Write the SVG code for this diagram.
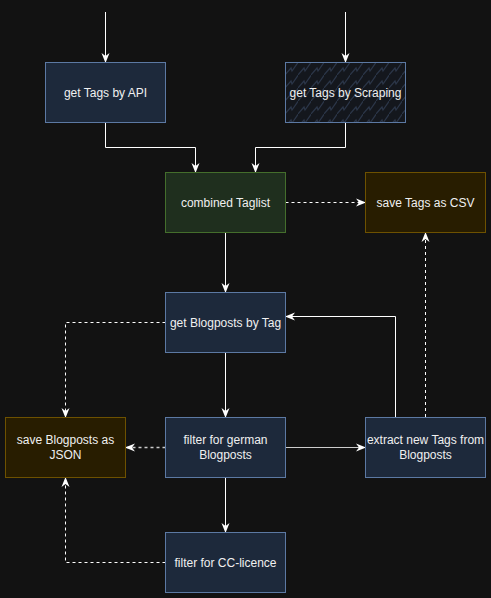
<svg xmlns="http://www.w3.org/2000/svg" width="491" height="598" viewBox="0 0 491 598">
<defs>
<marker id="arr" viewBox="0 0 10 10" refX="9" refY="5" markerWidth="10" markerHeight="10" markerUnits="userSpaceOnUse" orient="auto">
<path d="M0,1 L10,5 L0,9 L3,5 z" fill="#ffffff"/>
</marker>
<pattern id="zig" width="13" height="13" patternUnits="userSpaceOnUse" x="285" y="62">
<rect width="13" height="13" fill="#14171d"/>
<path d="M-1,14 L6,6 L7,9 L14,-1" fill="none" stroke="#2b3649" stroke-width="1.2"/>
</pattern>
<style>
.blue{fill:#1d293b;stroke:#5c79a3;stroke-width:1}
.green{fill:#1f2f1e;stroke:#446e2c;stroke-width:1}
.brown{fill:#281d00;stroke:#6d5100;stroke-width:1}
.zig{fill:url(#zig);stroke:#5c79a3;stroke-width:1}
text{font-family:"Liberation Sans",Arial,sans-serif;font-size:12px;fill:#f0f0f0;text-anchor:middle}
.e{fill:none;stroke:#ffffff;stroke-width:1;marker-end:url(#arr)}
.d{stroke-dasharray:3 3}
</style>
</defs>
<rect width="491" height="598" fill="#121212"/>
<g id="connectors">
<path class="e" d="M105.5,12 V62"/>
<path class="e" d="M345.5,12 V62" stroke="#bbbbbb"/>
<path class="e" d="M105.5,122.5 V147.5 H195.5 V172"/>
<path class="e" d="M345.5,122.5 V147.5 H255.5 V172"/>
<path class="e d" d="M285.5,202.5 H365"/>
<path class="e" d="M225.5,232.5 V292"/>
<path class="e d" d="M165.5,322.5 H65.5 V417"/>
<path class="e" d="M225.5,352.5 V417"/>
<path class="e d" d="M165.5,447.5 H126" style="stroke:#cccccc;stroke-width:1.5"/>
<path class="e" d="M285.5,447.5 H365" style="stroke:#cccccc"/>
<path class="e" d="M395.5,417 V316.5 H286"/>
<path class="e d" d="M425.5,417 V233"/>
<path class="e" d="M225.5,477.5 V532"/>
<path class="e d" d="M165.5,562.5 H65.5 V478"/>
</g>
<g id="api"><rect class="blue" x="45.5" y="62.5" width="120" height="60"/><text x="105.5" y="96.5">get Tags by API</text></g>
<g id="scraping"><rect class="zig" x="285.5" y="62.5" width="120" height="60"/><text x="345.5" y="96.5">get Tags by Scraping</text></g>
<g id="combined"><rect class="green" x="165.5" y="172.5" width="120" height="60"/><text x="225.5" y="206.5">combined Taglist</text></g>
<g id="csv"><rect class="brown" x="365.5" y="172.5" width="120" height="60"/><text x="425.5" y="206.5">save Tags as CSV</text></g>
<g id="blogposts"><rect class="blue" x="165.5" y="292.5" width="120" height="60"/><text x="225.5" y="326.5">get Blogposts by Tag</text></g>
<g id="json"><rect class="brown" x="5.5" y="417.5" width="120" height="60"/><text x="65.5" y="444">save Blogposts as</text><text x="65.5" y="459">JSON</text></g>
<g id="german"><rect class="blue" x="165.5" y="417.5" width="120" height="60"/><text x="225.5" y="444">filter for german</text><text x="225.5" y="459">Blogposts</text></g>
<g id="extract"><rect class="blue" x="365.5" y="417.5" width="120" height="60"/><text x="425.5" y="444">extract new Tags from</text><text x="425.5" y="459">Blogposts</text></g>
<g id="cc"><rect class="blue" x="165.5" y="532.5" width="120" height="60"/><text x="225.5" y="566.5">filter for CC-licence</text></g>
</svg>
